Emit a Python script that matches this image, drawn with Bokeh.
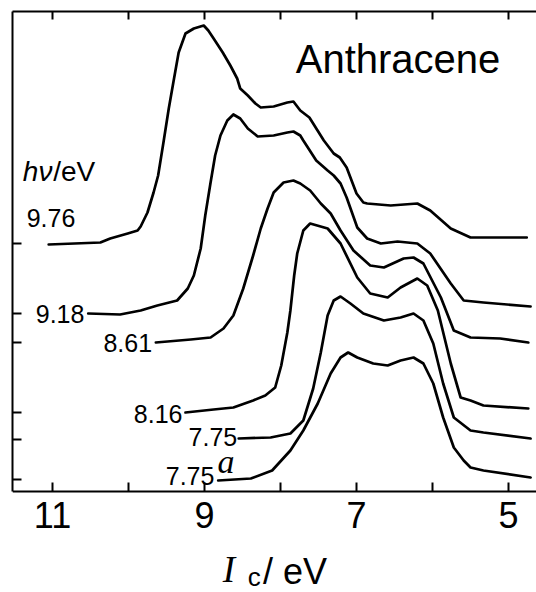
from bokeh.plotting import figure
from bokeh.models import Range1d, LinearAxis, FixedTicker, Label
from bokeh.embed import file_html
from bokeh.resources import INLINE

# ---- data: ionisation energy Ic (eV) vs. stacked signal (arb. units) ----
photon_energies = ["9.76", "9.18", "8.61", "8.16", "7.75", "7.75"]
baseline_levels = [24.8, 17.8, 14.9, 7.9, 5.2, 1.2]
x_major_ticks = [11, 9, 7, 5]
x_minor_ticks = [10, 8, 6]

ic_976 = [11.05, 10.37, 10.24, 10.01, 9.88, 9.84, 9.75, 9.67, 9.61, 9.54, 9.47, 9.41, 9.34, 9.25, 9.14,
          9.01, 8.95, 8.88, 8.76, 8.66, 8.57, 8.53, 8.43, 8.33, 8.26, 8.09, 7.91, 7.83, 7.74, 7.62,
          7.43, 7.30, 7.22, 7.13, 7.00, 6.91, 6.86, 6.55, 6.20, 6.03, 5.76, 5.50, 5.24, 4.76]
sig_976 = [24.7, 24.9, 25.3, 25.8, 26.1, 26.5, 27.9, 29.9, 31.6, 34.9, 38.3, 40.9, 43.9, 45.8, 46.3,
           46.6, 46.1, 45.3, 43.9, 42.6, 41.3, 40.3, 39.6, 38.8, 38.4, 38.5, 38.9, 39.0, 38.1, 37.4,
           35.1, 33.8, 33.4, 32.4, 29.8, 28.9, 28.8, 28.6, 28.8, 28.1, 26.3, 25.4, 25.4, 25.4]

ic_918 = [10.53, 10.11, 9.84, 9.62, 9.36, 9.22, 9.14, 9.05, 8.99, 8.92, 8.86, 8.79, 8.70, 8.62, 8.53,
          8.43, 8.30, 8.09, 7.91, 7.83, 7.74, 7.70, 7.53, 7.38, 7.30, 7.21, 7.13, 6.99, 6.86, 6.68,
          6.46, 6.20, 6.03, 5.76, 5.59, 5.33, 4.71]
sig_918 = [17.8, 17.7, 18.1, 18.6, 19.1, 20.3, 21.6, 24.3, 27.6, 30.9, 33.6, 35.6, 37.1, 37.7, 37.3,
           36.3, 35.5, 35.6, 35.9, 36.0, 35.6, 35.1, 33.1, 32.1, 31.6, 30.8, 29.4, 26.4, 25.3, 24.8,
           25.0, 24.8, 23.8, 20.8, 19.1, 18.9, 18.5]

ic_861 = [9.64, 9.18, 8.92, 8.75, 8.62, 8.49, 8.36, 8.26, 8.17, 8.09, 7.96, 7.83, 7.74, 7.61, 7.47,
          7.34, 7.21, 7.04, 6.82, 6.64, 6.38, 6.25, 6.12, 5.89, 5.72, 5.50, 5.11, 4.74]
sig_861 = [14.9, 15.2, 15.4, 16.3, 17.6, 20.3, 23.6, 26.3, 28.3, 29.9, 30.9, 31.1, 30.8, 30.1, 28.8,
           27.8, 26.1, 24.1, 22.6, 22.4, 23.3, 23.4, 22.8, 19.4, 16.1, 15.4, 15.3, 14.9]

ic_816 = [9.25, 8.88, 8.62, 8.36, 8.20, 8.07, 7.99, 7.91, 7.87, 7.82, 7.78, 7.70, 7.61, 7.38, 7.21,
          6.99, 6.82, 6.59, 6.42, 6.20, 6.07, 5.93, 5.76, 5.63, 5.50, 5.33, 4.74]
sig_816 = [7.9, 8.2, 8.4, 9.1, 9.6, 10.4, 12.6, 15.9, 18.1, 21.6, 23.8, 26.1, 26.8, 26.3, 24.8,
           21.4, 19.8, 19.4, 20.4, 21.3, 20.6, 18.1, 12.8, 9.4, 9.1, 8.6, 8.3]

ic_775 = [8.55, 8.13, 7.87, 7.70, 7.57, 7.47, 7.38, 7.30, 7.21, 7.08, 6.91, 6.64, 6.42, 6.25, 6.12,
          5.99, 5.86, 5.72, 5.50, 5.33, 4.71]
sig_775 = [5.3, 5.4, 5.8, 7.1, 10.3, 13.9, 17.6, 19.1, 19.5, 18.8, 17.8, 17.1, 17.4, 17.8, 17.1,
           14.8, 10.8, 7.4, 6.1, 5.9, 5.3]

ic_775a = [8.82, 8.39, 8.11, 7.87, 7.70, 7.51, 7.34, 7.21, 7.11, 6.99, 6.78, 6.59, 6.42, 6.25, 6.12,
           5.99, 5.86, 5.72, 5.59, 5.50, 5.33, 4.71]
sig_775a = [1.1, 1.3, 2.1, 4.1, 6.1, 8.8, 11.8, 13.4, 13.9, 13.4, 12.8, 12.6, 13.1, 13.4, 12.8,
            10.8, 7.4, 4.4, 3.1, 2.4, 2.1, 1.4]

curves = [(ic_976, sig_976), (ic_918, sig_918), (ic_861, sig_861),
          (ic_816, sig_816), (ic_775, sig_775), (ic_775a, sig_775a)]

FONT = "Liberation Sans"

p = figure(width=536, height=592, x_range=Range1d(11.526, 4.632), y_range=Range1d(-10.1, 48),
           output_backend="svg", toolbar_location=None, x_axis_location=None,
           min_border_left=12, min_border_right=0, min_border_top=11, min_border_bottom=0)
p.outline_line_color = None
p.grid.visible = False
p.background_fill_color = "white"
p.border_fill_color = "white"

def style_axis(ax, tick_len):
    ax.major_tick_in = tick_len
    ax.major_tick_out = 0
    ax.minor_tick_in = tick_len
    ax.minor_tick_out = 0
    ax.axis_line_width = 2
    ax.axis_line_color = "black"
    ax.major_tick_line_width = 2
    ax.major_tick_line_color = "black"
    ax.minor_tick_line_width = 2
    ax.minor_tick_line_color = "black"

# bottom axis, drawn at signal = 0
bx = LinearAxis(ticker=FixedTicker(ticks=x_major_ticks, minor_ticks=x_minor_ticks),
                fixed_location=0)
style_axis(bx, 9)
bx.major_label_text_font = FONT
bx.major_label_text_font_size = "36px"
bx.major_label_text_color = "black"
bx.major_label_standoff = 10
p.add_layout(bx, "below")

# left axis (baseline markers)
ly = p.left[0]
ly.ticker = FixedTicker(ticks=baseline_levels, minor_ticks=[])
ly.bounds = (0, 48)
ly.major_label_text_color = None
ly.major_label_text_font_size = "0px"
ly.major_label_standoff = 0
style_axis(ly, 9)
ly.minor_tick_in = 0

# top axis
top = LinearAxis(ticker=FixedTicker(ticks=x_major_ticks, minor_ticks=x_minor_ticks))
style_axis(top, 8)
top.major_label_text_color = None
top.major_label_text_font_size = "0px"
top.major_label_standoff = 0
p.add_layout(top, "above")

for xs, ys in curves:
    p.line(xs, ys, line_color="black", line_width=2.7, line_join="round", line_cap="round")

def add_text(x, y, text, size, font=FONT, style="normal"):
    p.add_layout(Label(x=x, y=y, text=text, text_font=font, text_font_style=style,
                       text_font_size=size, text_align="left", text_baseline="middle",
                       text_color="black"))

# curve labels (photon energies)
label_pos = [(11.34, 27.4), (11.22, 17.8), (10.33, 14.9), (9.93, 7.8), (9.21, 5.5), (9.51, 1.6)]
for txt, (lx, ly_) in zip(photon_energies, label_pos):
    add_text(lx, ly_, txt, "25px")

add_text(8.83, 3.0, "a", "34px", font="Liberation Serif", style="italic")
add_text(7.80, 43.3, "Anthracene", "40px")
add_text(11.39, 32.0, "hν", "28px", style="italic")
add_text(10.99, 32.0, "/eV", "28px")

# x-axis title: Ic / eV
add_text(8.76, -7.8, "I", "37px", font="Liberation Serif", style="italic")
add_text(8.43, -8.5, "c", "26px")
add_text(8.23, -8.0, "/ eV", "36px")

open("out.html", "w").write(file_html(p, INLINE))
